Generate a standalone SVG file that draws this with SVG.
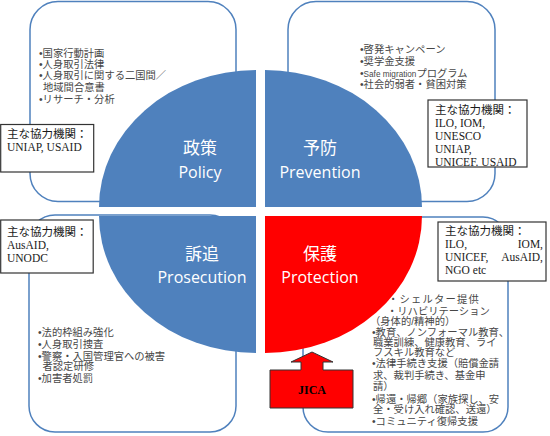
<svg xmlns="http://www.w3.org/2000/svg" width="550" height="436" viewBox="0 0 550 436">
<style>
.frame{fill:#fff;stroke:#4f81bd;stroke-width:1.5}
.quad{fill:#4f81bd}
.quad-red{fill:#ff0000}
.qjp{font-family:"Noto Sans CJK JP",sans-serif;font-size:17px;fill:#fff;text-anchor:middle}
.qen{font-family:"Open Sans","Liberation Sans",sans-serif;font-size:16px;fill:#fff;text-anchor:middle}
.list{font-family:"Liberation Sans","Noto Sans CJK JP",sans-serif;font-size:10.3px;fill:#474747}
.agbox{fill:#fff;stroke:#333;stroke-width:1.2}
.ag{font-family:"Liberation Serif","Noto Sans CJK JP",serif;font-size:11.5px;fill:#1a1a1a}
.jica{fill:#ff0000;stroke:#333;stroke-width:1}
.jica-text{font-family:"Liberation Serif",serif;font-size:12px;font-weight:bold;fill:#000;text-anchor:middle}
</style>

<g id="frames">
<rect id="frame-policy" class="frame" x="30" y="1.5" width="206" height="200" rx="28"/>
<rect id="frame-prevention" class="frame" x="288" y="1.5" width="207" height="200" rx="28"/>
<rect id="frame-prosecution" class="frame" x="29" y="215" width="207" height="217" rx="26"/>
<rect id="frame-protection" class="frame" x="303" y="217" width="205" height="215" rx="25"/>
</g>

<g id="policy"><path class="quad" d="M256,207 L99,207 A157,137 0 0,1 256,70 Z"/>
<text class="qjp" x="200" y="154">政策</text>
<text class="qen" x="200" y="178">Policy</text></g>
<g id="prevention"><path class="quad" d="M265,207 L265,70 A157,137 0 0,1 422,207 Z"/>
<text class="qjp" x="320" y="153.5">予防</text>
<text class="qen" x="320" y="177.5">Prevention</text></g>
<g id="prosecution"><path class="quad" d="M256,216 L256,353 A157,137 0 0,1 99,216 Z"/>
<text class="qjp" x="202" y="259.5">訴追</text>
<text class="qen" x="202" y="283">Prosecution</text></g>
<g id="protection"><path class="quad-red" d="M265,216 L422,216 A157,137 0 0,1 265,353 Z"/>
<text class="qjp" x="320" y="259.5">保護</text>
<text class="qen" x="320" y="282.5">Protection</text></g>

<g id="actions-policy">
<text class="list" x="39" y="57">•国家行動計画</text>
<text class="list" x="39" y="68">•人身取引法律</text>
<text class="list" x="39" y="79">•人身取引に関する二国間／</text>
<text class="list" x="43" y="90.5">地域間合意書</text>
<text class="list" x="39" y="103">•リサーチ・分析</text>
</g>
<g id="actions-prevention">
<text class="list" x="360" y="53">•啓発キャンペーン</text>
<text class="list" x="360" y="65">•奨学金支援</text>
<text class="list" x="360" y="77">•<tspan font-size="8.2">Safe migration</tspan>プログラム</text>
<text class="list" x="360" y="88">•社会的弱者・貧困対策</text>
</g>
<g id="actions-prosecution">
<text class="list" x="38" y="336">•法的枠組み強化</text>
<text class="list" x="38" y="348">•人身取引捜査</text>
<text class="list" x="38" y="360">•警察・入国管理官への被害</text>
<text class="list" x="42.5" y="370">者認定研修</text>
<text class="list" x="38" y="382">•加害者処罰</text>
</g>
<g id="actions-protection">
<text class="list" x="388" y="303" letter-spacing="1.2">・シェルター提供</text>
<text class="list" x="387" y="315">・リハビリテーション</text>
<text class="list" x="370" y="325">（身体的/精神的）</text>
<text class="list" x="372" y="336">•教育、ノンフォーマル教育、</text>
<text class="list" x="373" y="346">職業訓練、健康教育、ライ</text>
<text class="list" x="373" y="356">フスキル教育など</text>
<text class="list" x="372" y="367">•法律手続き支援（賠償金請</text>
<text class="list" x="373" y="379">求、裁判手続き、基金申</text>
<text class="list" x="373" y="390">請）</text>
<text class="list" x="372" y="403">•帰還・帰郷（家族探し、安</text>
<text class="list" x="373" y="413">全・受け入れ確認、送還）</text>
<text class="list" x="372" y="425">•コミュニティ復帰支援</text>
</g>

<g id="partners-policy"><rect class="agbox" x="0.7" y="124.5" width="93" height="47.5"/>
<text class="ag" x="7" y="137.5">主な協力機関：</text>
<text class="ag" x="7" y="151">UNIAP, USAID</text></g>
<g id="partners-prevention"><rect class="agbox" x="428" y="100" width="99" height="67"/>
<text class="ag" x="435" y="113.5">主な協力機関：</text>
<text class="ag" x="435" y="127">ILO, IOM,</text>
<text class="ag" x="435" y="140">UNESCO</text>
<text class="ag" x="435" y="153">UNIAP,</text>
<text class="ag" x="435" y="166">UNICEF. USAID</text></g>
<g id="partners-prosecution"><rect class="agbox" x="0.7" y="220" width="92.5" height="53"/>
<text class="ag" x="7" y="235.5">主な協力機関：</text>
<text class="ag" x="7" y="249">AusAID,</text>
<text class="ag" x="7" y="261.5">UNODC</text></g>
<g id="partners-protection"><rect class="agbox" x="438" y="222" width="108" height="59"/>
<text class="ag" x="445" y="234.5">主な協力機関：</text>
<text class="ag" x="445" y="248">ILO,</text>
<text class="ag" x="543" y="248" text-anchor="end">IOM,</text>
<text class="ag" x="445" y="261">UNICEF,</text>
<text class="ag" x="543" y="261" text-anchor="end">AusAID,</text>
<text class="ag" x="445" y="274">NGO etc</text></g>

<g id="jica"><path class="jica" d="M312,352 L333,362 L323,362 L323,370 L353,370 L353,408 L270,408 L270,370 L301,370 L301,362 L291,362 Z"/>
<text class="jica-text" x="312" y="394">JICA</text></g>

<g id="connectors"></g>
</svg>
